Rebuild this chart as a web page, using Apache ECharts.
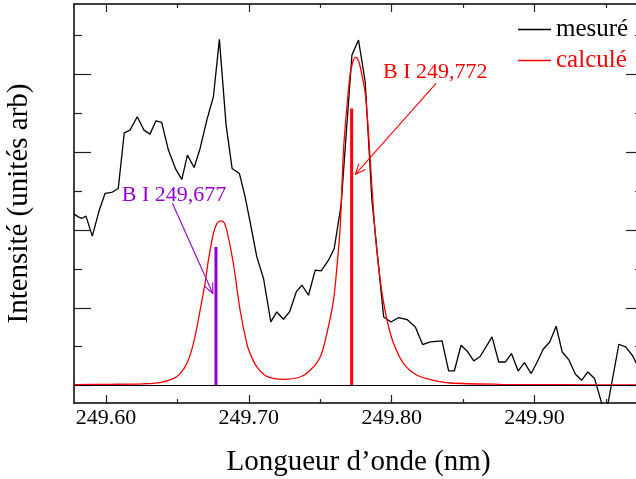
<!DOCTYPE html>
<html>
<head>
<meta charset="utf-8">
<script src="https://cdn.jsdelivr.net/npm/echarts@6/dist/echarts.min.js"></script>
<style>
html,body{margin:0;padding:0;background:#fff;}
#chart{width:636px;height:479px;}
</style>
</head>
<body>
<div id="chart"></div>
<script>
// ---------- data ----------
const measuredX = [249.5776,249.5806,249.5830,249.5860,249.5904,249.5953,249.5993,249.6040,249.6086,249.6128,
249.6168,249.6219,249.6266,249.6308,249.6350,249.6390,249.6437,249.6489,249.6531,249.6570,
249.6617,249.6659,249.6706,249.6752,249.6794,249.6841,249.6883,249.6934,249.6974,249.7009,
249.7056,249.7103,249.7154,249.7196,249.7243,249.7285,249.7332,249.7372,249.7418,249.7465,
249.7507,249.7558,249.7598,249.7646,249.7722,249.7768,249.7815,249.7862,249.7909,249.7944,
249.7996,249.8049,249.8108,249.8166,249.8217,249.8271,249.8353,249.8399,249.8439,249.8486,
249.8528,249.8575,249.8621,249.8703,249.8750,249.8797,249.8839,249.8886,249.8930,249.8977,
249.9019,249.9061,249.9107,249.9152,249.9194,249.9240,249.9287,249.9330,249.9374,249.9421,
249.9498,249.9591,249.9638,249.9685,249.9715,249.9757];
const measuredY = [4.409,4.340,4.299,4.358,3.843,4.512,4.942,4.968,5.071,6.502,
6.571,6.914,6.571,6.468,6.811,6.770,6.057,5.560,5.302,5.928,
5.611,6.100,6.829,7.429,8.906,6.700,5.586,5.457,4.855,4.211,
3.310,2.754,1.637,1.894,1.707,1.894,2.409,2.582,2.324,2.968,
2.950,3.225,3.526,4.641,8.502,8.888,7.815,4.770,3.053,1.766,
1.637,1.750,1.699,1.508,1.055,1.122,1.148,0.376,0.376,1.037,
0.891,0.633,0.754,1.251,0.607,0.607,0.824,0.376,0.592,0.309,
0.607,0.934,1.122,1.526,0.865,0.669,0.291,0.136,0.350,0.180,
-0.800,1.063,0.994,0.780,0.566,0.340];

const calcX = [249.5776,249.6028,249.6259,249.6378,249.6472,249.6519,249.6566,249.6612,249.6659,249.6694,
249.6717,249.6752,249.6778,249.6804,249.6827,249.6846,249.6892,249.6939,249.6986,249.7009,
249.7056,249.7126,249.7243,249.7360,249.7430,249.7500,249.7547,249.7593,249.7617,249.7640,
249.7663,249.7687,249.7710,249.7728,249.7745,249.7763,249.7780,249.7815,249.7838,249.7862,
249.7885,249.7909,249.7933,249.7968,249.8014,249.8084,249.8178,249.8294,249.8411,249.8762,
249.9182,249.9764];
const calcY = [0.026,0.033,0.046,0.077,0.180,0.309,0.566,1.081,1.938,2.633,
3.225,3.912,4.178,4.237,4.190,3.997,3.140,1.938,1.081,0.824,
0.479,0.239,0.162,0.221,0.394,0.736,1.346,2.196,3.053,4.082,
6.057,7.171,8.031,8.322,8.443,8.399,8.201,7.516,6.487,5.112,
3.920,3.053,2.376,1.681,1.081,0.566,0.265,0.136,0.067,0.033,
0.021,0.015];

const lineNames = ['B I 249,677', 'B I 249,772'];
const lineWavelengths = [249.677, 249.772];
const lineIntensities = [3.567, 7.130];

const xTickValues = [249.60, 249.70, 249.80, 249.90];
const xMinorValues = [249.65, 249.75, 249.85, 249.95];
const yMajorValues = [0, 2, 4, 6, 8];
const yMinorValues = [1, 3, 5, 7, 9];

// annotation anchors (data coordinates)
const labelAnchorX = [249.6110, 249.7940];
const labelAnchorY = [4.898, 8.051];
const arrowFromX = [249.6465, 249.8311];
const arrowFromY = [4.692, 7.773];
const arrowToX = [249.6748, 249.7747];
const arrowToY = [2.368, 5.439];

// ---------- style ----------
const FONT = '"Liberation Serif", "Times New Roman", serif';
const RED = '#ff0000';
const PURPLE = '#9400d3';
const lineColors = [PURPLE, RED];
const xMin = 249.5776, xMax = 249.976, yMin = -0.448, yMax = 9.815;

const zip = (a, b) => a.map((v, i) => [v, b[i]]);

function xAx(pos, values, len, showLine, showLabel) {
  return {
    type: 'value', position: pos, min: xMin, max: xMax, gridIndex: 0,
    axisLine: { show: showLine, onZero: false, lineStyle: { color: '#000', width: 1.5 } },
    axisTick: { show: true, inside: true, length: len, customValues: values, lineStyle: { color: '#222', width: 1.2 } },
    axisLabel: { show: showLabel, customValues: values, margin: 4, color: '#000', fontFamily: FONT, fontSize: 22,
      formatter: v => Number(v).toFixed(2) },
    splitLine: { show: false }
  };
}
function yAx(pos, values, len, showLine) {
  return {
    type: 'value', position: pos, min: yMin, max: yMax, gridIndex: 0,
    axisLine: { show: showLine, onZero: false, lineStyle: { color: '#000', width: 1.5 } },
    axisTick: { show: true, inside: true, length: len, customValues: values, lineStyle: { color: '#222', width: 1.2 } },
    axisLabel: { show: false },
    splitLine: { show: false }
  };
}

const xAxes = [
  xAx('bottom', xTickValues, 8, true, true),
  xAx('top', xTickValues, 8, true, false),
  xAx('bottom', xMinorValues, 4, false, false),
  xAx('top', xMinorValues, 4, false, false)
];
Object.assign(xAxes[0], {
  name: 'Longueur d’onde (nm)', nameLocation: 'middle', nameGap: 45,
  nameTextStyle: { fontFamily: FONT, fontSize: 29, color: '#000' }
});
const yAxes = [
  yAx('left', yMajorValues, 17, true),
  yAx('right', yMajorValues, 17, true),
  yAx('left', yMinorValues, 8, false),
  yAx('right', yMinorValues, 8, false)
];
Object.assign(yAxes[0], {
  name: 'Intensité (unités arb)', nameLocation: 'middle', nameGap: 40,
  nameTextStyle: { fontFamily: FONT, fontSize: 29, color: '#000' }
});

const chart = echarts.init(document.getElementById('chart'), null, { renderer: 'canvas' });

const stickSeries = lineWavelengths.map((w, i) => ({
  type: 'line', name: 'stick' + i, xAxisIndex: 0, yAxisIndex: 0,
  data: [[w, 0], [w, lineIntensities[i]]],
  showSymbol: false, symbol: 'none', silent: true,
  lineStyle: { color: lineColors[i], width: 3 }, z: 4
}));

chart.setOption({
  animation: false,
  backgroundColor: '#fff',
  grid: { left: 74, top: 4, right: -7, bottom: 76, containLabel: false, outerBoundsMode: 'none' },
  legend: {
    orient: 'vertical', left: 513, top: 12, itemWidth: 33, itemHeight: 1.5, itemGap: 6,
    icon: 'rect',
    textStyle: { fontFamily: FONT, fontSize: 25 },
    data: [
      { name: 'mesuré', textStyle: { color: '#000' } },
      { name: 'calculé', textStyle: { color: RED } }
    ]
  },
  xAxis: xAxes,
  yAxis: yAxes,
  series: [
    {
      type: 'line', name: 'mesuré', xAxisIndex: 0, yAxisIndex: 0,
      data: zip(measuredX, measuredY), showSymbol: false, symbol: 'none',
      lineStyle: { color: '#000', width: 1.3 }, itemStyle: { color: '#000' }, z: 2,
      markLine: {
        silent: true, symbol: 'none', label: { show: false },
        lineStyle: { color: '#000', width: 1, type: 'solid' },
        data: [{ yAxis: 0 }]
      }
    },
    {
      type: 'line', name: 'calculé', xAxisIndex: 0, yAxisIndex: 0,
      data: zip(calcX, calcY), showSymbol: false, symbol: 'none', smooth: 0.3,
      lineStyle: { color: RED, width: 1.3 }, itemStyle: { color: RED }, z: 3
    },
    ...stickSeries,
    {
      type: 'custom', name: 'arrows', xAxisIndex: 0, yAxisIndex: 0, silent: true, z: 5,
      encode: { x: [0, 2], y: [1, 3] },
      data: arrowFromX.map((v, i) => [v, arrowFromY[i], arrowToX[i], arrowToY[i]]),
      renderItem: function (params, api) {
        const i = params.dataIndex;
        const p1 = api.coord([api.value(0), api.value(1)]);
        const p2 = api.coord([api.value(2), api.value(3)]);
        const ang = Math.atan2(p2[1] - p1[1], p2[0] - p1[0]);
        const L = 11, a = 0.42;
        const h1 = [p2[0] - L * Math.cos(ang - a), p2[1] - L * Math.sin(ang - a)];
        const h2 = [p2[0] - L * Math.cos(ang + a), p2[1] - L * Math.sin(ang + a)];
        const st = { stroke: lineColors[i], lineWidth: 1.1, fill: null };
        return { type: 'group', children: [
          { type: 'line', shape: { x1: p1[0], y1: p1[1], x2: p2[0], y2: p2[1] }, style: st },
          { type: 'polyline', shape: { points: [h1, p2, h2] }, style: st }
        ] };
      }
    },
    {
      type: 'custom', name: 'labels', xAxisIndex: 0, yAxisIndex: 0, silent: true, z: 6,
      encode: { x: 0, y: 1 },
      data: labelAnchorX.map((v, i) => [v, labelAnchorY[i]]),
      renderItem: function (params, api) {
        const i = params.dataIndex;
        const p = api.coord([api.value(0), api.value(1)]);
        return { type: 'text', x: p[0], y: p[1], style: {
          text: lineNames[i], fill: lineColors[i], font: '22px ' + FONT,
          textAlign: 'left', textVerticalAlign: 'middle'
        } };
      }
    }
  ]
});
</script>
</body>
</html>
